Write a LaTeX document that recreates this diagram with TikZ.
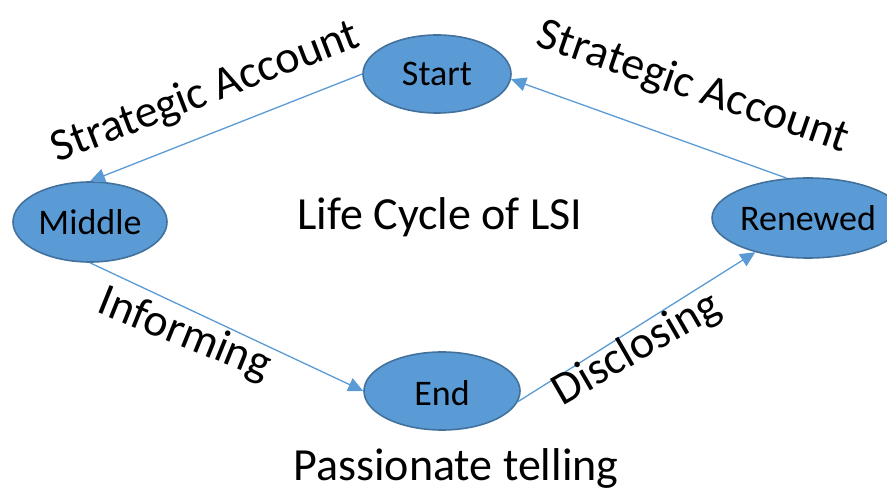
\documentclass[tikz,border=0pt]{standalone}
\usepackage{fontspec}
\setmainfont{Carlito}
\usetikzlibrary{shapes.geometric,arrows.meta}
\definecolor{stagefill}{HTML}{5B9BD5}
\definecolor{stageline}{HTML}{41719C}
\definecolor{flowline}{HTML}{5B9BD5}
\tikzset{
  stage/.style={ellipse, draw=stageline, line width=1.6pt, fill=stagefill,
    inner sep=0pt, text depth=0pt, font=\fontsize{36}{40}\selectfont},
  flow/.style={draw=flowline, line width=1.3pt,
    -{Triangle[length=15pt,width=14pt]}},
  caption/.style={anchor=base, inner sep=0pt, font=\fontsize{46}{52}\selectfont}
}
\begin{document}
\begin{tikzpicture}[x=1pt,y=-1pt]
  \useasboundingbox (0,0) rectangle (887,494);

  % stages of the cycle
  \node[stage, minimum width=148pt, minimum height=78pt] (start)   at (437,74)  {Start};
  \node[stage, minimum width=154pt, minimum height=80pt] (middle)  at (90,222)  {Middle};
  \node[stage, minimum width=154pt, minimum height=80pt] (renewed) at (808,218) {Renewed};
  \node[stage, minimum width=156pt, minimum height=78pt] (end)     at (442,391) {\raisebox{-5pt}{End}};

  % transitions
  \draw[flow] (start.west) -- (middle.north);
  \draw[flow] (middle.south) -- (end.west);
  \draw[flow] (end.-8) -- (renewed.213);
  \draw[flow] (renewed.118) -- (start.-4);

  % captions
  \node[caption] (title)   at (440,230) {Life Cycle of LSI};
  \node[caption] (passion) at (456,480) {Passionate telling};
  \node[caption, rotate=21]  (stratL) at (210,104) {Strategic Account};
  \node[caption, rotate=-19] (stratR) at (689,99) {Strategic Account};
  \node[caption, rotate=-22] (inform) at (180,346) {Informing};
  \node[caption, rotate=30]  (disclose) at (643,360) {Disclosing};
\end{tikzpicture}
\end{document}
